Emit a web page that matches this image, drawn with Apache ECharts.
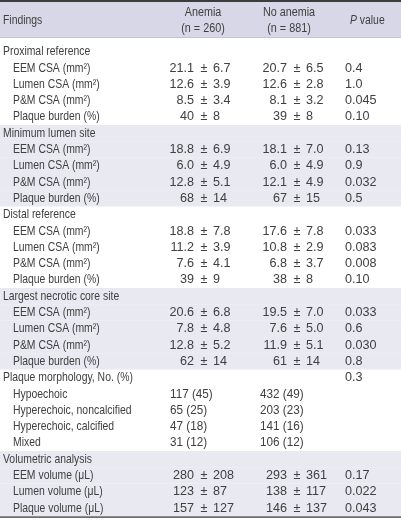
<!DOCTYPE html>
<html><head><meta charset="utf-8">
<script src="https://cdn.jsdelivr.net/npm/echarts@6/dist/echarts.min.js"></script>
<style>html,body{margin:0;padding:0;background:#fff}#c{width:401px;height:520px}</style>
</head><body><div id="c"></div>
<script>
// ---- table content ----
const headerFindings = 'Findings';
const headerAnemia = ['Anemia', '(n = 260)'];
const headerNoAnemia = ['No anemia', '(n = 881)'];
const headerP = '{i|P} value';

const sections = ['Proximal reference', 'Minimum lumen site', 'Distal reference',
  'Largest necrotic core site', 'Plaque morphology, No. (%)', 'Volumetric analysis'];
const sectionP = ['', '', '', '', '0.3', ''];

const csaLabels = ['EEM CSA (mm²)', 'Lumen CSA (mm²)', 'P&M CSA (mm²)', 'Plaque burden (%)'];
const morphologyLabels = ['Hypoechoic', 'Hyperechoic, noncalcified', 'Hyperechoic, calcified', 'Mixed'];
const volumeLabels = ['EEM volume (μL)', 'Lumen volume (μL)', 'Plaque volume (μL)'];

// mean ± SD (anemia / no anemia), per section
const proxAnemiaMean = ['21.1', '12.6', '8.5', '40'];
const proxAnemiaSD = ['6.7', '3.9', '3.4', '8'];
const proxNoMean = ['20.7', '12.6', '8.1', '39'];
const proxNoSD = ['6.5', '2.8', '3.2', '8'];
const proxP = ['0.4', '1.0', '0.045', '0.10'];

const minAnemiaMean = ['18.8', '6.0', '12.8', '68'];
const minAnemiaSD = ['6.9', '4.9', '5.1', '14'];
const minNoMean = ['18.1', '6.0', '12.1', '67'];
const minNoSD = ['7.0', '4.9', '4.9', '15'];
const minP = ['0.13', '0.9', '0.032', '0.5'];

const distAnemiaMean = ['18.8', '11.2', '7.6', '39'];
const distAnemiaSD = ['7.8', '3.9', '4.1', '9'];
const distNoMean = ['17.6', '10.8', '6.8', '38'];
const distNoSD = ['7.8', '2.9', '3.7', '8'];
const distP = ['0.033', '0.083', '0.008', '0.10'];

const ncAnemiaMean = ['20.6', '7.8', '12.8', '62'];
const ncAnemiaSD = ['6.8', '4.8', '5.2', '14'];
const ncNoMean = ['19.5', '7.6', '11.9', '61'];
const ncNoSD = ['7.0', '5.0', '5.1', '14'];
const ncP = ['0.033', '0.6', '0.030', '0.8'];

// counts, No. (%)
const morphAnemiaN = [117, 65, 47, 31];
const morphAnemiaPct = [45, 25, 18, 12];
const morphNoN = [432, 203, 141, 106];
const morphNoPct = [49, 23, 16, 12];

const volAnemiaMean = ['280', '123', '157'];
const volAnemiaSD = ['208', '87', '127'];
const volNoMean = ['293', '138', '146'];
const volNoSD = ['361', '117', '137'];
const volP = ['0.17', '0.022', '0.043'];

// ---- build row table ----
const rows = [];
function addSection(si, labels, aM, aS, nM, nS, p, kind) {
  rows.push({ label: sections[si], level: 0, p: sectionP[si], band: si % 2 === 1 });
  labels.forEach((l, k) => {
    rows.push({ label: l, level: 1, kind: kind, a1: aM[k], a2: aS[k], n1: nM[k], n2: nS[k],
      p: p ? p[k] : '', band: si % 2 === 1 });
  });
}
addSection(0, csaLabels, proxAnemiaMean, proxAnemiaSD, proxNoMean, proxNoSD, proxP, 'pm');
addSection(1, csaLabels, minAnemiaMean, minAnemiaSD, minNoMean, minNoSD, minP, 'pm');
addSection(2, csaLabels, distAnemiaMean, distAnemiaSD, distNoMean, distNoSD, distP, 'pm');
addSection(3, csaLabels, ncAnemiaMean, ncAnemiaSD, ncNoMean, ncNoSD, ncP, 'pm');
addSection(4, morphologyLabels, morphAnemiaN, morphAnemiaPct, morphNoN, morphNoPct, null, 'count');
addSection(5, volumeLabels, volAnemiaMean, volAnemiaSD, volNoMean, volNoSD, volP, 'pm');

// ---- layout / style ----
const FONT = '13px "Liberation Sans", Arial, sans-serif';
const TXT = '#404040';
const BAND = '#e9e9f2';
const HEAD = '#d7d7e7';
const COL = { sec: 3, item: 13, aPM: 204, nPM: 297, aCnt: 170, nCnt: 260, p: 345, aHead: 203, nHead: 289, pHead: 350 };
const HEADER_TOP = -3.047, HEADER_BOT = -0.839;
const SQ_TEXT = 0.8, SQ_NUM = 0.97, SQ_CNT = 0.9, SQ_HEAD = 0.83;

function txt(x, y, text, align, sx, extra) {
  return { type: 'text', x: x, y: y, scaleX: sx || 1,
    style: Object.assign({ x: 0, y: 0, text: String(text), fill: TXT, font: FONT,
      align: align || 'left', verticalAlign: 'middle' }, extra || {}) };
}

const chart = echarts.init(document.getElementById('c'), null, { renderer: 'canvas' });
chart.setOption({
  animation: false,
  grid: { left: 0, right: 0, top: 0, bottom: 0 },
  xAxis: { type: 'value', min: 0, max: 401, show: false },
  yAxis: { type: 'value', inverse: true, min: -3.17, max: 28.73, show: false },
  series: [
    {
      type: 'custom',
      coordinateSystem: 'cartesian2d',
      data: rows.map((r, i) => [0, i]),
      renderItem: function (params, api) {
        const i = params.dataIndex;
        const r = rows[i];
        const y = api.coord([0, i])[1];
        const top = api.coord([0, i - 0.5])[1];
        const bot = api.coord([0, i + 0.5])[1];
        const x0 = api.coord([0, 0])[0];
        const x1 = api.coord([401, 0])[0];
        const ch = [];
        if (r.band) ch.push({ type: 'rect', shape: { x: x0, y: top, width: x1 - x0, height: bot - top }, style: { fill: BAND } });
        const X = (v) => api.coord([v, i])[0];
        if (r.level === 0) {
          ch.push(txt(X(COL.sec), y, r.label, 'left', SQ_TEXT));
        } else {
          ch.push(txt(X(COL.item), y, r.label, 'left', SQ_TEXT));
          if (r.kind === 'pm') {
            [[COL.aPM, r.a1, r.a2], [COL.nPM, r.n1, r.n2]].forEach(c => {
              ch.push(txt(X(c[0] - 10), y, c[1], 'right', SQ_NUM));
              ch.push(txt(X(c[0]), y, '±', 'center', SQ_NUM));
              ch.push(txt(X(c[0] + 9), y, c[2], 'left', SQ_NUM));
            });
          } else {
            ch.push(txt(X(COL.aCnt), y, r.a1 + ' (' + r.a2 + ')', 'left', SQ_CNT));
            ch.push(txt(X(COL.nCnt), y, r.n1 + ' (' + r.n2 + ')', 'left', SQ_CNT));
          }
        }
        if (r.p) ch.push(txt(X(COL.p), y, r.p, 'left', SQ_NUM));
        return { type: 'group', children: ch };
      }
    },
    {
      type: 'custom',
      coordinateSystem: 'cartesian2d',
      data: [[0, 0]],
      z: 1,
      renderItem: function (params, api) {
        const x0 = api.coord([0, 0])[0];
        const x1 = api.coord([401, 0])[0];
        const ht = api.coord([0, HEADER_TOP])[1];
        const hb = api.coord([0, HEADER_BOT])[1];
        const mid = (ht + hb) / 2;
        const l1 = mid - 7.5, l2 = mid + 8;
        const last = api.coord([0, rows.length - 0.5])[1];
        const X = (v) => api.coord([v, 0])[0];
        return { type: 'group', children: [
          { type: 'rect', shape: { x: x0, y: ht, width: x1 - x0, height: hb - ht }, style: { fill: HEAD } },
          { type: 'rect', shape: { x: x0, y: 0, width: x1 - x0, height: ht }, style: { fill: '#3c3c3c' } },
          { type: 'rect', shape: { x: x0, y: hb - 1, width: x1 - x0, height: 1 }, style: { fill: '#c4c4d4' } },
          { type: 'rect', shape: { x: x0, y: last, width: x1 - x0, height: 1.6 }, style: { fill: '#3c3c3c' } },
          txt(X(COL.sec), mid, headerFindings, 'left', SQ_TEXT),
          txt(X(COL.aHead), l1, headerAnemia[0], 'center', SQ_HEAD),
          txt(X(COL.aHead), l2, headerAnemia[1], 'center', SQ_HEAD),
          txt(X(COL.nHead), l1, headerNoAnemia[0], 'center', SQ_HEAD),
          txt(X(COL.nHead), l2, headerNoAnemia[1], 'center', SQ_HEAD),
          txt(X(COL.pHead), mid, headerP, 'left', SQ_TEXT, { rich: { i: { fontStyle: 'italic', font: 'italic ' + FONT, fill: TXT } } })
        ] };
      }
    }
  ]
});
</script>
</body></html>
